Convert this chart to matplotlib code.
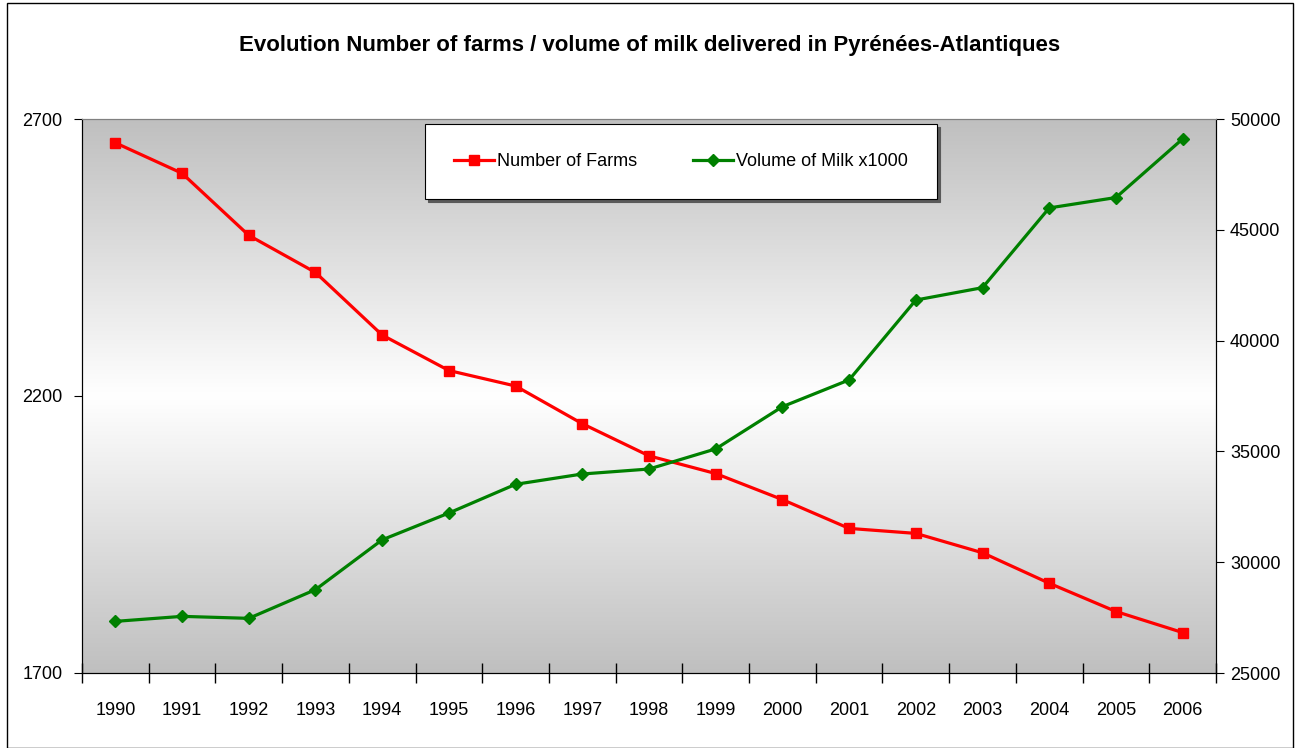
import matplotlib
matplotlib.use("Agg")
import matplotlib.pyplot as plt
import numpy as np
from matplotlib.patches import Rectangle

plt.rcParams['font.family'] = ['Liberation Sans', 'DejaVu Sans']

years = ["1990", "1991", "1992", "1993", "1994", "1995", "1996", "1997", "1998",
         "1999", "2000", "2001", "2002", "2003", "2004", "2005", "2006"]
farms = [2657, 2602, 2490, 2423, 2310, 2246, 2218, 2150, 2092,
         2060, 2013, 1961, 1952, 1917, 1862, 1811, 1773]
milk = [27330, 27556, 27466, 28762, 31010, 32219, 33515, 33980, 34205,
        35113, 37018, 38227, 41830, 42389, 45987, 46456, 49102]

title = "Evolution Number of farms / volume of milk delivered in Pyrénées-Atlantiques"

fig = plt.figure(figsize=(12.99, 7.48), dpi=100)
ax = fig.add_axes([82 / 1299, 75 / 748, 1134 / 1299, 554 / 748])
ax2 = ax.twinx()

# grey -> white -> grey background
t = np.linspace(0, 1, 256)
shade = 0.75 + 0.25 * (1 - np.abs(2 * t - 1))
grad = np.dstack([shade, shade, shade]).reshape(256, 1, 3)
ax.imshow(grad, extent=[0, 1, 0, 1], transform=ax.transAxes, aspect='auto',
          zorder=0, interpolation='bilinear')

x = np.arange(len(years))
l1, = ax.plot(x, farms, color='#ff0000', lw=2.3, marker='s', ms=7,
              label="Number of Farms", zorder=3)
l2, = ax2.plot(x, milk, color='#008000', lw=2.3, marker='D', ms=6,
               label="Volume of Milk x1000", zorder=3)

ax.set_xlim(-0.5, len(years) - 0.5)
ax.set_ylim(1700, 2700)
ax2.set_ylim(25000, 50000)
ax.set_yticks([1700, 2200, 2700])
ax2.set_yticks([25000, 30000, 35000, 40000, 45000, 50000])

ax.set_xticks(x)
ax.set_xticklabels(years)
ax.set_xticks(np.arange(-0.5, len(years)), minor=True)
ax.tick_params(axis='x', which='major', length=0, pad=21, labelsize=13)
ax.tick_params(axis='x', which='minor', direction='inout', length=14, width=1)
ax.tick_params(axis='y', direction='out', length=6, pad=8, labelsize=13)
ax2.tick_params(axis='y', direction='out', length=6, pad=4, labelsize=13)

for a in (ax, ax2):
    a.spines['top'].set_color('#808080')
    a.spines['left'].set_color('black')
    a.spines['right'].set_color('black')
    a.spines['bottom'].set_color('black')

leg = ax2.legend(handles=[l1, l2], loc='upper left',
                 bbox_to_anchor=(0.3025, 0.861, 0.4515, 0.13), mode='expand',
                 ncol=2, fontsize=13, borderaxespad=0, borderpad=1.6,
                 handlelength=2.2, handletextpad=0.2, columnspacing=3.3,
                 fancybox=False, framealpha=1, edgecolor='black',
                 shadow={'color': '0.35', 'alpha': 1})
leg.get_frame().set_linewidth(0.8)

fig.text(0.5, 1 - 45 / 748, title, ha='center', va='center', fontsize=16,
         fontweight='bold')

fig.patches.append(Rectangle((7 / 1299, 0), 1286 / 1299, 745 / 748,
                             transform=fig.transFigure, fill=False,
                             edgecolor='black', lw=1))

fig.savefig("out.png", dpi=100)
